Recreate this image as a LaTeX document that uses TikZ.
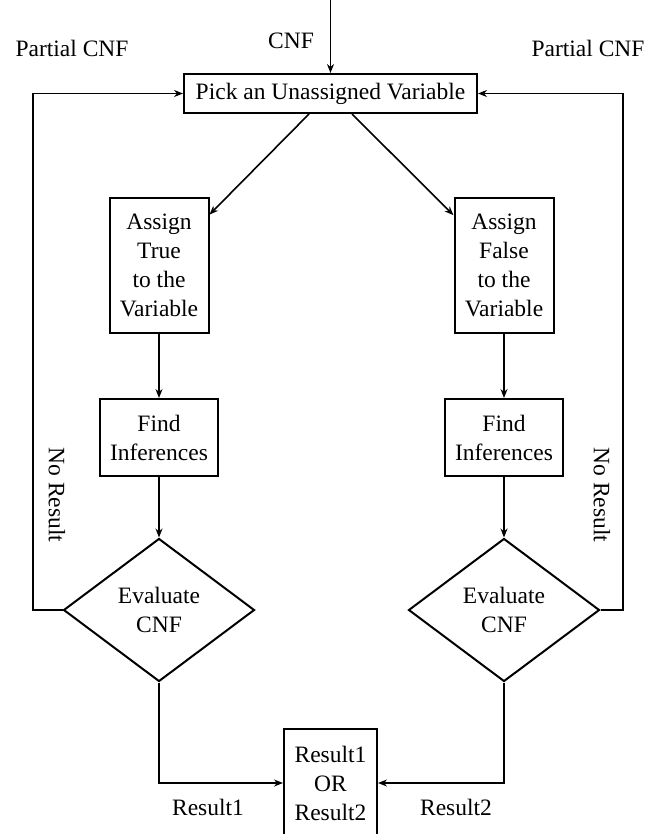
\documentclass[tikz,border=0pt]{standalone}
\usepackage{fontspec}
\setmainfont{Liberation Serif}
\usetikzlibrary{arrows.meta,shapes.geometric}
\begin{document}
\begin{tikzpicture}[x=1pt,y=-1pt,
  every node/.style={font=\fontsize{23.5}{29}\selectfont, inner sep=0pt},
  box/.style={draw, line width=2pt, align=center},
  dia/.style={draw, diamond, line width=2pt, align=center, minimum width=191pt, minimum height=143pt, aspect=1.336},
  conn/.style={line width=1.6pt, -{Stealth[length=9pt,width=7pt,inset=3pt]}},
]
\useasboundingbox (0,0) rectangle (655,834);
\clip (0,0) rectangle (655,834);
% main nodes
\node[box, minimum width=293pt, minimum height=39pt] (pick) at (330.5,93.5) {Pick an Unassigned Variable};
\node[box, minimum width=99pt, minimum height=135pt] (at) at (159,265.5) {Assign\\True\\to the\\Variable};
\node[box, minimum width=99pt, minimum height=135pt] (af) at (504,265.5) {Assign\\False\\to the\\Variable};
\node[box, minimum width=118pt, minimum height=77pt] (ft) at (159,437.5) {Find\\Inferences};
\node[box, minimum width=118pt, minimum height=77pt] (ff) at (504,437.5) {Find\\Inferences};
\node[dia] (et) at (159,610) {Evaluate\\CNF};
\node[dia] (ef) at (504,610) {Evaluate\\CNF};
\node[box, minimum width=93pt, minimum height=108pt] (res) at (330.5,783) {Result1\\OR\\Result2};
% labels
\node (pl) at (72,48) {Partial CNF};
\node (pr) at (588,48) {Partial CNF};
\node (cnf) at (291,41) {CNF};
\node[rotate=-90] (nl) at (57,495) {No Result};
\node[rotate=-90] (nr) at (602,495) {No Result};
\node (r1) at (208,807) {Result1};
\node (r2) at (456,807) {Result2};
% connectors
\coordinate (topin) at (330.5,0);
\draw[conn] (topin) -- (pick.north);
\coordinate (d1) at ([xshift=-21.5pt]pick.south);
\coordinate (d2) at ([xshift=21.5pt]pick.south);
\draw[conn] (d1) -- (at);
\draw[conn] (d2) -- (af);
\draw[conn] (at) -- (ft);
\draw[conn] (af) -- (ff);
\draw[conn] (ft) -- (et);
\draw[conn] (ff) -- (ef);
\draw[conn] (et.west) -- ++(-29.5,0) |- (pick.west);
\draw[conn] (ef.east) -- ++(22.5,0) |- (pick.east);
\draw[conn] (et.south) |- (res.west);
\draw[conn] (ef.south) |- (res.east);
\end{tikzpicture}
\end{document}
